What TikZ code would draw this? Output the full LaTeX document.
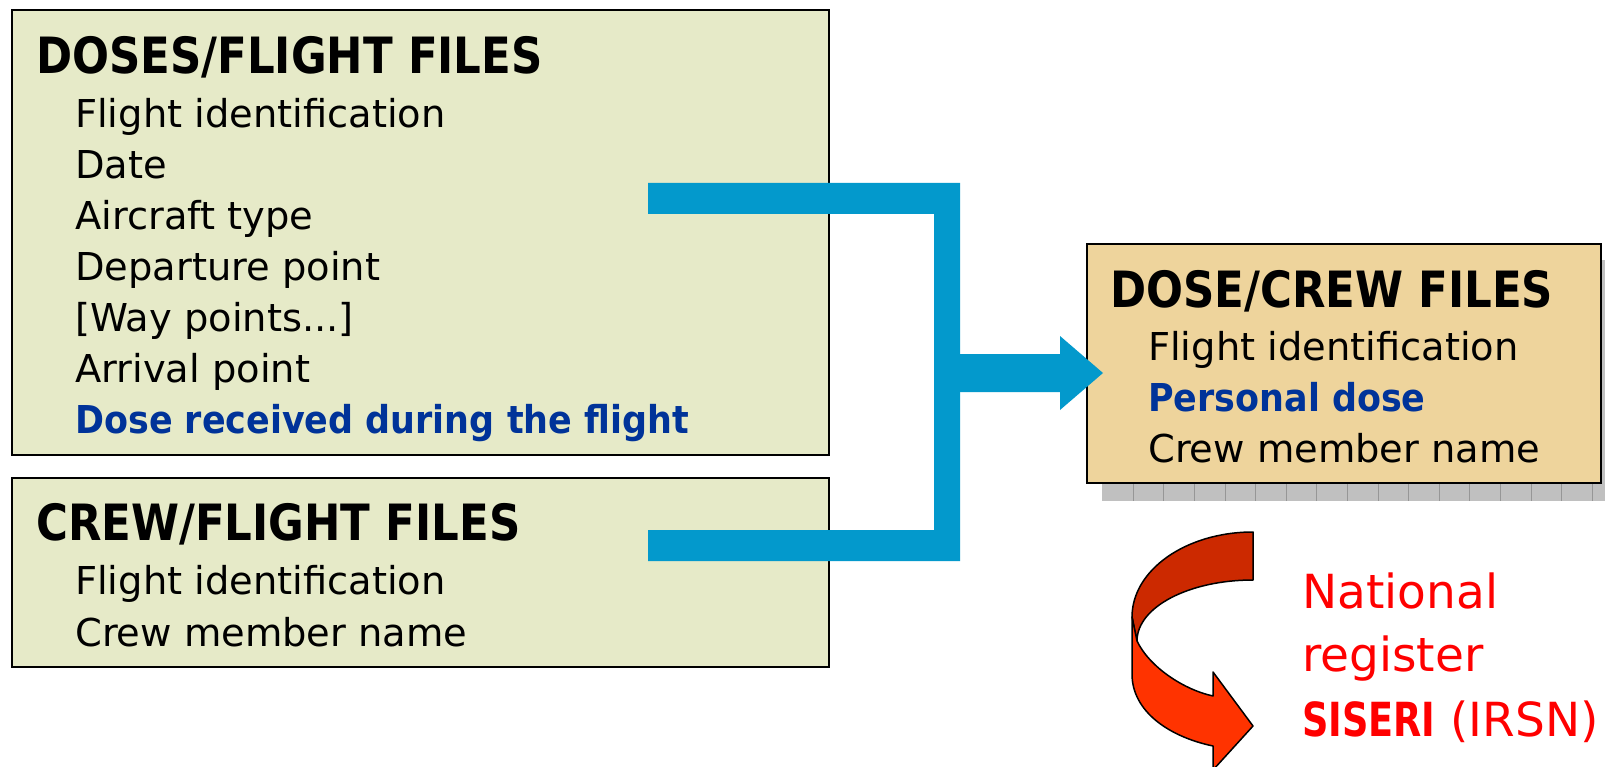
\documentclass[tikz,border=0pt]{standalone}
\usepackage{fontspec}
\setmainfont{DejaVu Sans}
\newfontfamily\titlefont[FakeStretch=0.87]{DejaVu Sans Bold}
\newfontfamily\itembold[FakeStretch=0.91]{DejaVu Sans Bold}
\newfontfamily\redbold[FakeStretch=0.78]{DejaVu Sans Bold}
\definecolor{boxgreen}{RGB}{230,234,200}
\definecolor{boxtan}{RGB}{238,212,156}
\definecolor{conblue}{RGB}{3,153,204}
\definecolor{textblue}{RGB}{0,51,153}
\definecolor{darkred}{RGB}{204,41,0}
\definecolor{brightred}{RGB}{255,51,0}
\definecolor{shadowgray}{RGB}{192,192,192}
\definecolor{gridgray}{RGB}{150,150,150}
\begin{document}
\begin{tikzpicture}[x=1pt,y=-1pt,
  filebox/.style={draw=black, line width=2.5pt, rectangle, inner sep=0pt, outer sep=0pt, anchor=north west},
  titletxt/.style={anchor=base west, inner sep=0pt, font=\titlefont\fontsize{50}{60}\selectfont},
  itemtxt/.style={anchor=base west, inner sep=0pt, font=\fontsize{38.4}{46}\selectfont},
  keytxt/.style={anchor=base west, inner sep=0pt, text=textblue, font=\itembold\fontsize{38.4}{46}\selectfont},
  redtxt/.style={anchor=base west, inner sep=0pt, text=red, font=\fontsize{47}{56}\selectfont},
  connector/.style={fill=conblue, draw=none},
  ribbon/.style={draw=black, line width=1.5pt, line join=round}]
\useasboundingbox (0,0) rectangle (1605,767);
\clip (0,0) rectangle (1605,767);
\fill[white] (0,0) rectangle (1605,767);

% boxes
\node[filebox, fill=boxgreen, minimum width=817pt, minimum height=445pt] (df) at (12,10) {};
\node[filebox, fill=boxgreen, minimum width=817pt, minimum height=189pt] (cf) at (12,478) {};

% shadow of dose/crew box
\fill[shadowgray] (1102,260) rectangle (1625,501);
\foreach \i in {0,...,16} {
  \draw[gridgray, line width=1pt] ({1133.3+30.6*\i},483) -- ({1133.3+30.6*\i},501);
}
\node[filebox, fill=boxtan, minimum width=514pt, minimum height=239pt] (dc) at (1087,244) {};

% texts: doses/flight
\node[titletxt] (t1) at (36,73.3) {DOSES/FLIGHT FILES};
\node[itemtxt] (t1a) at (75,127.3) {Flight identification};
\node[itemtxt] (t1b) at (75,178.3) {Date};
\node[itemtxt] (t1c) at (75,229.3) {Aircraft type};
\node[itemtxt] (t1d) at (75,280.3) {Departure point};
\node[itemtxt] (t1e) at (75,331.3) {[Way points...]};
\node[itemtxt] (t1f) at (75,382.3) {Arrival point};
\node[keytxt] (t1g) at (75,433.3) {Dose received during the flight};

% crew/flight
\node[titletxt] (t2) at (36,540) {CREW/FLIGHT FILES};
\node[itemtxt] (t2a) at (75,594) {Flight identification};
\node[itemtxt] (t2b) at (75,646) {Crew member name};

% dose/crew
\node[titletxt] (t3) at (1110,307) {DOSE/CREW FILES};
\node[itemtxt] (t3a) at (1148,360) {Flight identification};
\node[keytxt] (t3b) at (1148,411.5) {Personal dose};
\node[itemtxt] (t3c) at (1148,462.7) {Crew member name};

% blue connectors
\coordinate (dfout) at (648,198.5);
\coordinate (cfout) at (648,545.5);
\coordinate (tip) at (1103,373);
\fill[connector] (648,183) -- (960,183) -- (960,561) -- (648,561) -- (648,530)
  -- (934,530) -- (934,214) -- (648,214) -- cycle;
\fill[connector] (934,354) -- (1060,354) -- (1060,336) -- (tip) -- (1060,410)
  -- (1060,392) -- (934,392) -- cycle;

% red curved arrow
\filldraw[ribbon, fill=darkred] (1253,532) -- (1253,580)
  .. controls (1189,580) and (1137,607) .. (1137,641)
  -- (1132,617)
  .. controls (1132,570) and (1186,532) .. (1253,532) -- cycle;
\filldraw[ribbon, fill=brightred] (1132,617) -- (1132,674)
  .. controls (1132,712) and (1170,737) .. (1213,746)
  -- (1213,770) -- (1253,726) -- (1213,672) -- (1213,696)
  .. controls (1185,690) and (1150,668) .. (1137,641) -- cycle;

% red text
\node[redtxt] (r1) at (1302,608.5) {National};
\node[redtxt] (r2) at (1302,671) {register};
\node[redtxt] (r3) at (1302,736) {{\redbold SISERI} (IRSN)};
\end{tikzpicture}
\end{document}
